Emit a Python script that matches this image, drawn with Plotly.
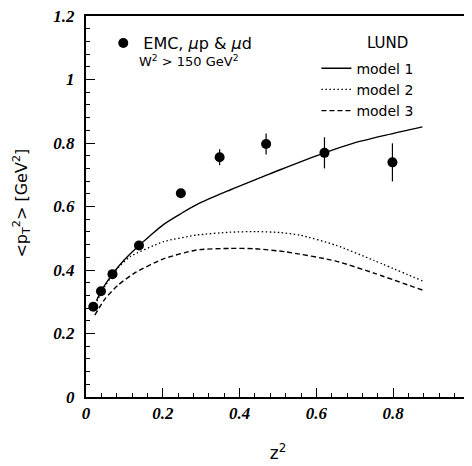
import plotly.graph_objects as go

# EMC data
data_x = [0.019, 0.039, 0.069, 0.138, 0.247, 0.348, 0.469, 0.621, 0.798]
data_y = [0.284, 0.333, 0.387, 0.477, 0.642, 0.755, 0.797, 0.769, 0.739]
data_err = [0.008, 0.008, 0.008, 0.008, 0.010, 0.025, 0.033, 0.049, 0.060]

# LUND models
m1_x = [0.028, 0.039, 0.069, 0.10, 0.138, 0.167, 0.2016, 0.245, 0.288, 0.375, 0.461, 0.504, 0.621, 0.695, 0.781, 0.876]
m1_y = [0.305, 0.333, 0.387, 0.432, 0.477, 0.508, 0.543, 0.576, 0.606, 0.652, 0.694, 0.715, 0.769, 0.799, 0.825, 0.851]

m2_x = [0.023, 0.05, 0.084, 0.115, 0.2016, 0.288, 0.375, 0.443, 0.504, 0.556, 0.651, 0.75, 0.876]
m2_y = [0.29, 0.35, 0.408, 0.442, 0.489, 0.510, 0.519, 0.521, 0.518, 0.510, 0.478, 0.43, 0.366]

m3_x = [0.023, 0.05, 0.084, 0.13, 0.2016, 0.288, 0.375, 0.44, 0.521, 0.651, 0.75, 0.876]
m3_y = [0.258, 0.31, 0.353, 0.393, 0.435, 0.463, 0.468, 0.467, 0.457, 0.428, 0.39, 0.337]

x_ticks = [0, 0.2, 0.4, 0.6, 0.8, 1]
y_ticks = [0, 0.2, 0.4, 0.6, 0.8, 1, 1.2]

SANS = "DejaVu Sans"
SERIF = "Liberation Serif, Times New Roman, serif"

fig = go.Figure()

fig.add_trace(go.Scatter(
    x=m1_x, y=m1_y, mode="lines", name="model 1",
    line=dict(color="black", width=1.4, shape="spline", smoothing=0.8),
    legend="legend2"))
fig.add_trace(go.Scatter(
    x=m2_x, y=m2_y, mode="lines", name="model 2",
    line=dict(color="black", width=1.3, dash="1.5px,2.5px", shape="spline", smoothing=0.6),
    legend="legend2"))
fig.add_trace(go.Scatter(
    x=m3_x, y=m3_y, mode="lines", name="model 3",
    line=dict(color="black", width=1.4, dash="5px,3px", shape="spline", smoothing=0.6),
    legend="legend2"))
fig.add_trace(go.Scatter(
    x=data_x, y=data_y, mode="markers", name="EMC, <i>μ</i>p &amp; <i>μ</i>d",
    marker=dict(color="black", size=10),
    error_y=dict(type="data", array=data_err, color="black", width=0, thickness=1.2),
    legend="legend"))

tickfont = dict(family=SERIF, size=17, color="black", weight="bold", style="italic")

fig.update_xaxes(
    range=[0, 1], tickvals=x_ticks, ticktext=[("%g" % v) for v in x_ticks],
    ticks="inside", ticklen=9, tickwidth=1, tickcolor="black",
    minor=dict(dtick=0.04, ticks="inside", ticklen=4, tickcolor="black"),
    showline=True, linewidth=2, linecolor="black", mirror=True,
    showgrid=False, zeroline=False, tickfont=tickfont, ticklabeloverflow="allow",
    title=dict(text="z<sup>2</sup>", font=dict(family=SANS, size=17, color="black"), standoff=25),
)
fig.update_yaxes(
    range=[0, 1.2], tickvals=y_ticks, ticktext=[("%g" % v) for v in y_ticks],
    ticks="inside", ticklen=9, tickwidth=1, tickcolor="black",
    minor=dict(dtick=0.04, ticks="inside", ticklen=4, tickcolor="black"),
    showline=True, linewidth=2, linecolor="black", mirror=True,
    showgrid=False, zeroline=False, tickfont=tickfont, ticklabelstandoff=6,
    ticklabeloverflow="allow",
)

fig.update_layout(
    width=472, height=466,
    margin=dict(l=78, r=10, t=8, b=77, autoexpand=False),
    paper_bgcolor="white", plot_bgcolor="white",
    showlegend=True,
    legend=dict(x=0.045, y=0.929, xanchor="left", yanchor="middle", bgcolor="rgba(0,0,0,0)",
                font=dict(family=SANS, size=16, color="black")),
    legend2=dict(x=0.6, y=0.904, xanchor="left", yanchor="top", bgcolor="rgba(0,0,0,0)",
                 font=dict(family=SANS, size=14, color="black"), tracegroupgap=0),
    annotations=[
        dict(text="&lt;p<sub>T</sub><sup>2</sup>&gt; [GeV<sup>2</sup>]", xref="paper", yref="paper",
             x=-0.167, y=0.51, xanchor="center", yanchor="middle", textangle=-90, showarrow=False,
             font=dict(family=SANS, size=16, color="black")),
        dict(text="W<sup>2</sup> &gt; 150 GeV<sup>2</sup>", xref="paper", yref="paper", x=0.133, y=0.882,
             xanchor="left", yanchor="middle", showarrow=False,
             font=dict(family=SANS, size=13, color="black")),
        dict(text="LUND", xref="paper", yref="paper", x=0.7266, y=0.929,
             xanchor="left", yanchor="middle", showarrow=False,
             font=dict(family=SANS, size=15, color="black")),
    ],
)

fig.write_html("out.html")
